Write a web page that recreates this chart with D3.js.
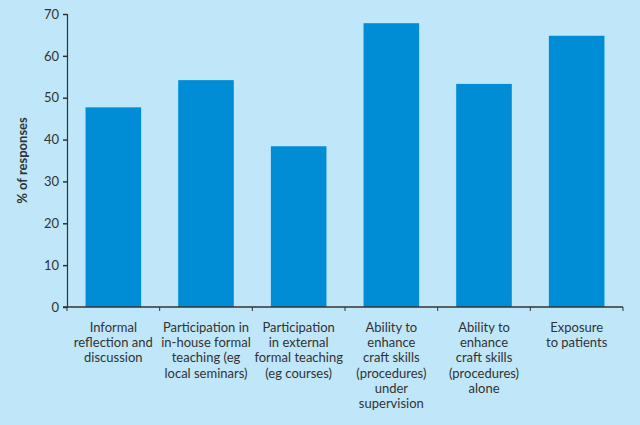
<!DOCTYPE html>
<html><head><meta charset="utf-8">
<script src="https://cdn.jsdelivr.net/npm/d3@7"></script>
<style>
html,body{margin:0;padding:0;background:#bfe6f9;}
svg{display:block;}
text{font-family:Lato,"Open Sans",sans-serif;fill:#333;}
</style></head>
<body>
<svg id="c" width="640" height="425"></svg>
<script>
const categories = [
  ["Informal","reflection and","discussion"],
  ["Participation in","in-house formal","teaching (eg","local seminars)"],
  ["Participation","in external","formal teaching","(eg courses)"],
  ["Ability to","enhance","craft skills","(procedures)","under","supervision"],
  ["Ability to","enhance","craft skills","(procedures)","alone"],
  ["Exposure","to patients"]
];
const values = [47.7, 54.2, 38.4, 67.8, 53.3, 64.8];
const yTicks = [0,10,20,30,40,50,60,70];
const yLabel = "% of responses";

(function(){
const svg = d3.select("#c");
const mL = 67, mR = 623, mT = 14, mB = 307;
const x = d3.scaleBand().domain(d3.range(values.length)).range([mL,mR]).paddingInner(0.4).paddingOuter(0.2);
const y = d3.scaleLinear().domain([0,70]).range([mB,mT]);

svg.append("rect").attr("width",640).attr("height",425).attr("fill","#bfe6f9");

svg.selectAll("rect.bar").data(values).enter().append("rect")
  .attr("class","bar")
  .attr("x",(d,i)=>x(i)).attr("width",x.bandwidth())
  .attr("y",d=>y(d)).attr("height",d=>y(0)-y(d))
  .attr("fill","#008dd5");

const ya = svg.append("g").attr("transform",`translate(${mL},0)`)
  .call(d3.axisLeft(y).tickValues(yTicks).tickSize(4).tickPadding(4));
ya.select(".domain").attr("stroke","#333").attr("stroke-width",1.2);
ya.selectAll(".tick line").attr("stroke","#333").attr("stroke-width",1.5);
ya.selectAll(".tick text").style("font-size","13px").attr("fill","#333").style("font-family","Lato,'Open Sans',sans-serif");

const bounds = d3.range(values.length+1).map(i => mL + i*(mR-mL)/values.length);
svg.append("line").attr("x1",mL-4).attr("x2",mR).attr("y1",mB).attr("y2",mB)
  .attr("stroke","#333").attr("stroke-width",1.5);
svg.selectAll("line.xt").data(bounds).enter().append("line")
  .attr("x1",d=>d).attr("x2",d=>d).attr("y1",mB).attr("y2",mB+4)
  .attr("stroke","#333").attr("stroke-width",1);

const lab = svg.selectAll("text.cat").data(categories).enter().append("text")
  .attr("class","cat")
  .attr("text-anchor","middle")
  .style("font-size","13px")
  .attr("transform",(d,i)=>`translate(${x(i)+x.bandwidth()/2},${mB+25})`);
lab.selectAll("tspan").data(d=>d).enter().append("tspan")
  .attr("x",0).attr("y",(d,j)=>j*15.2).text(d=>d);

svg.append("text").attr("transform",`translate(27,${(mT+mB)/2}) rotate(-90)`)
  .attr("text-anchor","middle").style("font-size","13px").style("font-weight","bold")
  .text(yLabel);
})();
</script>
</body></html>
